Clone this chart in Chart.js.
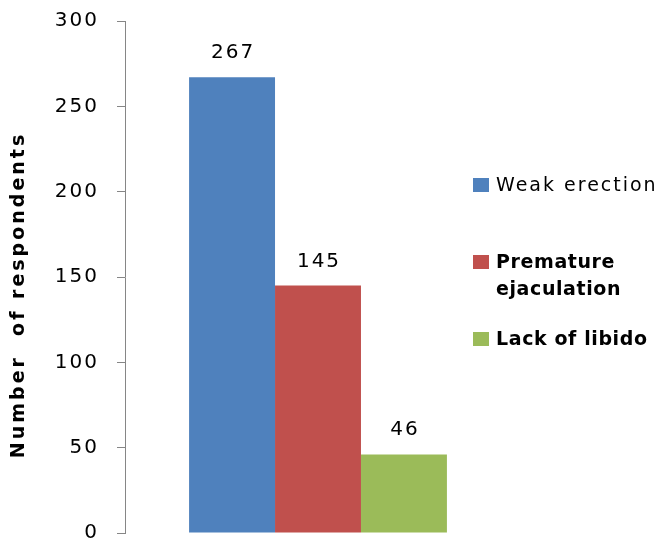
<!DOCTYPE html>
<html>
<head>
<meta charset="utf-8">
<script src="https://cdn.jsdelivr.net/npm/chart.js@4"></script>
<style>
  html, body { margin: 0; padding: 0; background: #fff; }
  #wrap { width: 663px; height: 542px; }
</style>
</head>
<body>
<div id="wrap"><canvas id="chart" width="663" height="542"></canvas></div>
<script>
// data
const categories = [''];
const seriesNames = ['Weak erection', 'Premature ejaculation', 'Lack of libido'];
const seriesValues = [267, 145, 46];
const yMin = 0, yMax = 300, yStep = 50;
const axisTitle = 'Number  of respondents';

const colors = ['#4F81BD', '#C0504D', '#9BBB59'];
const legendBold = [false, true, true];

function wrapText(ctx, text, maxWidth) {
  let words = text.split(' ');
  let lines = [];
  let line = '';
  words.forEach(function(w) {
    let test = line ? line + ' ' + w : w;
    if (line && ctx.measureText(test).width > maxWidth) {
      lines.push(line);
      line = w;
    } else {
      line = test;
    }
  });
  if (line) lines.push(line);
  return lines;
}

const extras = {
  id: 'extras',
  beforeDraw(chart) {
    chart.ctx.letterSpacing = '2px';
  },
  afterDraw(chart) {
    const ctx = chart.ctx;
    ctx.save();
    ctx.fillStyle = '#000';

    // value labels above the bars
    ctx.font = '20px "DejaVu Sans"';
    ctx.letterSpacing = '2px';
    ctx.textAlign = 'center';
    ctx.textBaseline = 'alphabetic';
    chart.data.datasets.forEach(function(ds, i) {
      const bar = chart.getDatasetMeta(i).data[0];
      ctx.fillText(String(ds.data[0]), bar.x + 1, bar.y - 19);
    });

    // y axis title
    ctx.save();
    ctx.translate(19, 295);
    ctx.rotate(-Math.PI / 2);
    ctx.font = 'bold 19px "DejaVu Sans"';
    ctx.letterSpacing = '3px';
    ctx.textAlign = 'center';
    ctx.textBaseline = 'middle';
    ctx.fillText(axisTitle, 0, 0);
    ctx.restore();

    // legend on the right
    const rows = [185, 262, 339];
    ctx.textAlign = 'left';
    ctx.textBaseline = 'middle';
    chart.data.datasets.forEach(function(ds, i) {
      ctx.font = (legendBold[i] ? 'bold ' : '') + '19px "DejaVu Sans"';
      ctx.letterSpacing = legendBold[i] ? '0.6px' : '2px';
      const lines = wrapText(ctx, ds.label, 170);
      ctx.fillStyle = ds.backgroundColor;
      ctx.fillRect(473, rows[i] - 7, 16, 14);
      ctx.fillStyle = '#000';
      lines.forEach(function(l, k) {
        ctx.fillText(l, 496, rows[i] + 1 + k * 27);
      });
    });
    ctx.restore();
    ctx.letterSpacing = '0px';
  }
};

const datasets = seriesNames.map(function(name, i) {
  return {
    label: name,
    data: [seriesValues[i]],
    backgroundColor: colors[i],
    borderWidth: 0,
    categoryPercentage: 0.668,
    barPercentage: 1.0
  };
});

new Chart(document.getElementById('chart'), {
  type: 'bar',
  data: { labels: categories, datasets: datasets },
  plugins: [extras],
  options: {
    responsive: false,
    animation: false,
    layout: { padding: { top: 21, right: 152, bottom: 9, left: 0 } },
    plugins: {
      legend: { display: false },
      tooltip: { enabled: false },
      title: { display: false }
    },
    scales: {
      x: { display: false },
      y: {
        min: yMin,
        max: yMax,
        afterFit(scale) {
          scale.width = 125;
          scale.paddingTop = 0;
          scale.paddingBottom = 0;
        },
        border: { display: true, color: '#868686', width: 1 },
        grid: {
          drawOnChartArea: false,
          drawTicks: true,
          tickLength: 8,
          color: '#868686'
        },
        ticks: {
          stepSize: yStep,
          padding: 18,
          color: '#000',
          font: { family: 'DejaVu Sans', size: 20 }
        }
      }
    }
  }
});
</script>
</body>
</html>
